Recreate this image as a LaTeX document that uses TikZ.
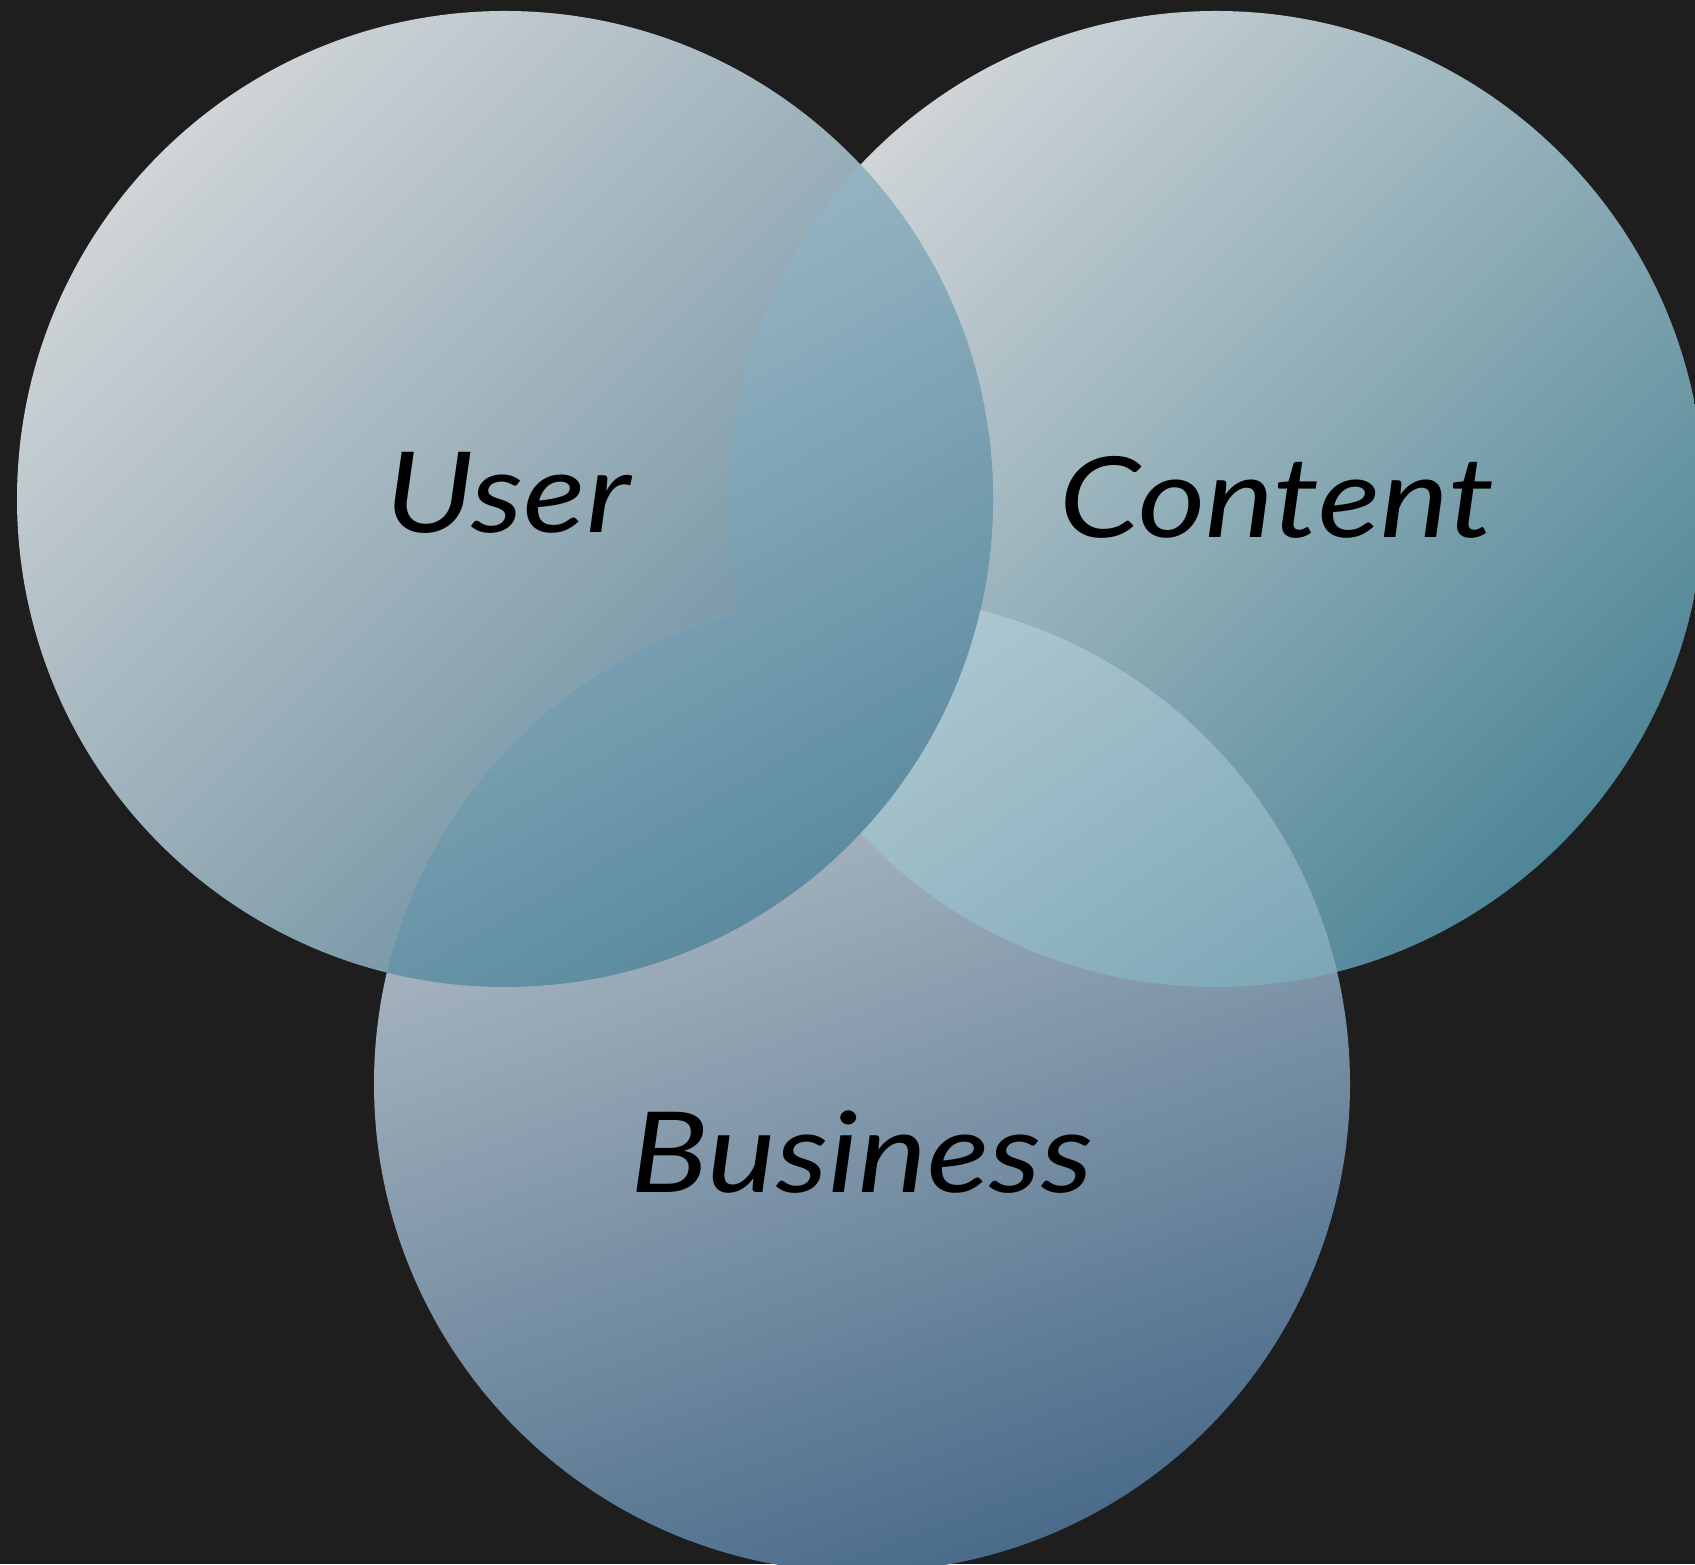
\documentclass[tikz,border=0pt]{standalone}
\usepackage{fontspec}
\usepackage{tikz}
\newfontfamily\vennfont[FakeStretch=1.16]{Lato Italic}

\definecolor{bgdark}{HTML}{1E1E1E}
\definecolor{paleU}{HTML}{CFD4D7}
\definecolor{deepU}{HTML}{62889A}
\definecolor{paleC}{HTML}{CFD4D7}
\definecolor{deepC}{HTML}{4F8697}
\definecolor{paleB}{HTML}{BEC6CC}
\definecolor{deepB}{HTML}{4A6C8A}
\definecolor{lapTop}{HTML}{B9CDD7}
\definecolor{lapBot}{HTML}{5C8BA0}
\definecolor{bcTop}{HTML}{BDD1D9}
\definecolor{bcBot}{HTML}{5E93A6}

\tikzset{
  label/.style={font=\vennfont\fontsize{112}{130}\selectfont, text=black, anchor=base}
}

\begin{document}
\begin{tikzpicture}[x=1pt, y=1pt]
            % Background
            \fill[bgdark] (0,0) rectangle (1695,1564);
            \useasboundingbox (0,0) rectangle (1695,1564);
            \clip (0,0) rectangle (1695,1564);

            % Centres
            \coordinate (u) at (505,1065);
            \coordinate (c) at (1216,1065);
            \coordinate (b) at (862,480);
            \def\rad{488}

            % The three circles
            \shade[top color=paleC, bottom color=deepC, shading angle=45] (c) circle (\rad);
            \shade[top color=paleU, bottom color=deepU, shading angle=45] (u) circle (\rad);
            \shade[top color=paleB, bottom color=deepB, shading angle=20] (b) circle (\rad);

            % Business and Content
            \begin{scope}
                \clip (c) circle (\rad);
                \shade[top color=bcTop, bottom color=bcBot, shading angle=35] (b) circle (\rad);
            \end{scope}

            % User over the other two
            \begin{scope}
                \clip (u) circle (\rad);
                \clip (c) circle (\rad) (b) circle (\rad);
                \shade[top color=lapTop, bottom color=lapBot, shading angle=30] (u) circle (\rad);
            \end{scope}

            % Labels
            \node[label] (user) at (508,1031) {User};
            \node[label] (content) at (1277,1026) {Content};
            \node[label] (business) at (862,371) {Business};
        \end{tikzpicture}
\end{document}
